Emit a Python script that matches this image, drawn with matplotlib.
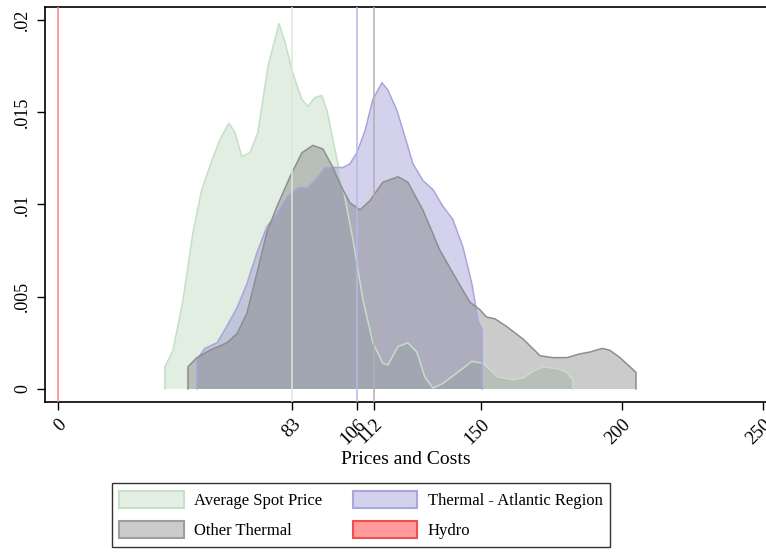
import numpy as np
import matplotlib.pyplot as plt
from matplotlib.patches import Patch

plt.rcParams['font.family'] = ['Liberation Serif', 'DejaVu Serif']

# Kernel density estimates (x = price/cost, y = density)
spot_x = [37.9, 40.8, 44.3, 47.9, 51.0, 54.6, 57.4, 60.6, 62.8, 65.2, 68.1, 70.9,
          74.5, 78.4, 80.5, 83.3, 86.5, 88.6, 91.1, 93.6, 95.4, 98.2, 101.1, 104.6,
          108.2, 111.7, 115.2, 117.0, 120.6, 124.1, 127.3, 130.1, 133.0, 136.5,
          142.6, 146.8, 150.7, 156.0, 161.3, 165.0, 169.0, 172.0, 177.0, 180.5, 182.6]
spot_y = [0.0012, 0.0021, 0.0048, 0.0085, 0.0108, 0.0124, 0.0135, 0.0144, 0.0139,
          0.0126, 0.0128, 0.0139, 0.0175, 0.0198, 0.0188, 0.0171, 0.0157, 0.0153,
          0.0158, 0.0159, 0.0151, 0.0130, 0.0109, 0.0081, 0.0048, 0.0025, 0.0014,
          0.0013, 0.0023, 0.0025, 0.0020, 0.00065, 0.00005, 0.0003, 0.0010, 0.0015,
          0.0014, 0.00065, 0.0005, 0.0006, 0.0010, 0.0012, 0.0011, 0.0009, 0.0005]

atl_x = [49.3, 52.1, 56.4, 59.9, 63.5, 67.0, 70.6, 74.1, 77.7, 81.2, 85.1, 88.3,
         91.1, 94.7, 97.5, 101.1, 103.5, 106.0, 108.9, 111.7, 114.9, 117.0, 120.2,
         123.0, 125.9, 129.4, 133.0, 136.5, 140.0, 143.6, 146.8, 149.0, 150.4]
atl_y = [0.0016, 0.0022, 0.0025, 0.0034, 0.0044, 0.0057, 0.0074, 0.0088, 0.0095,
         0.0104, 0.0109, 0.0109, 0.0113, 0.0120, 0.0120, 0.0120, 0.0122, 0.0128,
         0.0140, 0.0157, 0.0166, 0.0162, 0.0151, 0.0137, 0.0122, 0.0113, 0.0108,
         0.0099, 0.0092, 0.0077, 0.0057, 0.0037, 0.0032]

oth_x = [46.1, 49.3, 53.9, 59.9, 63.5, 67.0, 70.6, 74.1, 77.7, 82.3, 86.5, 90.4,
         94.0, 97.5, 100.7, 103.5, 107.1, 110.6, 115.2, 120.6, 124.1, 129.4, 135.5,
         141.5, 146.1, 149.6, 152.0, 155.0, 159.0, 165.0, 171.0, 175.5, 180.5, 185.0,
         188.6, 193.0, 195.7, 199.3, 205.0]
oth_y = [0.0012, 0.0017, 0.0021, 0.0025, 0.0030, 0.0041, 0.0063, 0.0085, 0.0099,
         0.0115, 0.0128, 0.0132, 0.0130, 0.0120, 0.0109, 0.0101, 0.0097, 0.0102,
         0.0112, 0.0115, 0.0112, 0.0097, 0.0075, 0.0059, 0.0047, 0.0043, 0.0039,
         0.0038, 0.0034, 0.0027, 0.0018, 0.0017, 0.0017, 0.0019, 0.0020, 0.0022,
         0.0021, 0.0017, 0.0009]

# mean markers drawn as vertical lines
means = {'spot': 83, 'atl': 106, 'oth': 112, 'hydro': 0}
xticks = [0, 83, 106, 112, 150, 200, 250]
yticks = [0, 0.005, 0.01, 0.015, 0.02]
ytick_labels = ['0', '.005', '.01', '.015', '.02']

green_f, green_e = '#acd1ac', '#c5dfc7'
purple_f, purple_e = '#817cc9', '#a8a5dc'
grey_f, grey_e = '#6a6a6a', '#8e8e8e'
red = '#ff7f7f'

fig = plt.figure(figsize=(7.66, 5.52), dpi=100)
ax = fig.add_axes([45 / 766, 1 - 402 / 552, 721 / 766, 395 / 552])


def area(x, y, fc, ec):
    xs = np.r_[x[0], x, x[-1]]
    ys = np.r_[0, y, 0]
    ax.fill(xs, ys, facecolor=fc, alpha=0.35, edgecolor='none', zorder=2)
    ax.plot(xs, ys, color=ec, lw=1.1, zorder=3)


area(spot_x, spot_y, green_f, green_e)
area(atl_x, atl_y, purple_f, purple_e)
area(oth_x, oth_y, grey_f, grey_e)

ax.axvline(means['spot'], color='#d8ead9', lw=1.1, zorder=4)
ax.axvline(means['atl'], color='#b9b6e6', lw=1.1, zorder=4)
ax.axvline(means['oth'], color='#b0b0b0', lw=1.1, zorder=4)
ax.axvline(means['hydro'], color=red, lw=1.1, zorder=4)

ax.set_xlim(-4.6, 251.1)
ax.set_ylim(-0.000705, 0.0207)
ax.set_xticks(xticks)
ax.set_xticklabels([str(t) for t in xticks], rotation=45, ha='right', va='top',
                   rotation_mode='anchor', fontsize=13.5)
ax.set_yticks(yticks)
ax.set_yticklabels(ytick_labels, rotation=90, va='center', fontsize=13)
ax.tick_params(direction='out', length=6, width=1, color='black', pad=4)
ax.set_xlabel('Prices and Costs', fontsize=14, labelpad=2)

for s in ['left', 'bottom', 'top']:
    ax.spines[s].set_linewidth(1.2)
ax.spines['right'].set_visible(False)

handles = [
    Patch(facecolor='#e2efe2', edgecolor='#c8e0c9', lw=1.5, label='Average Spot Price'),
    Patch(facecolor='#cbcbcb', edgecolor='#9e9e9e', lw=1.5, label='Other Thermal'),
    Patch(facecolor='#d4d1ec', edgecolor='#aaa6de', lw=1.5, label='Thermal - Atlantic Region'),
    Patch(facecolor='#ff9b9b', edgecolor='#f25050', lw=1.5, label='Hydro'),
]
leg = fig.legend(handles=handles, ncol=2, loc='center', bbox_to_anchor=(361 / 766, 1 - 515 / 552),
                 fontsize=12, frameon=True, fancybox=False, edgecolor='black',
                 handlelength=3.85, handleheight=1.2, handletextpad=0.66,
                 columnspacing=1.8, labelspacing=0.75, borderpad=0.45)
leg.get_frame().set_linewidth(1.0)

fig.savefig('out.png', dpi=100)
